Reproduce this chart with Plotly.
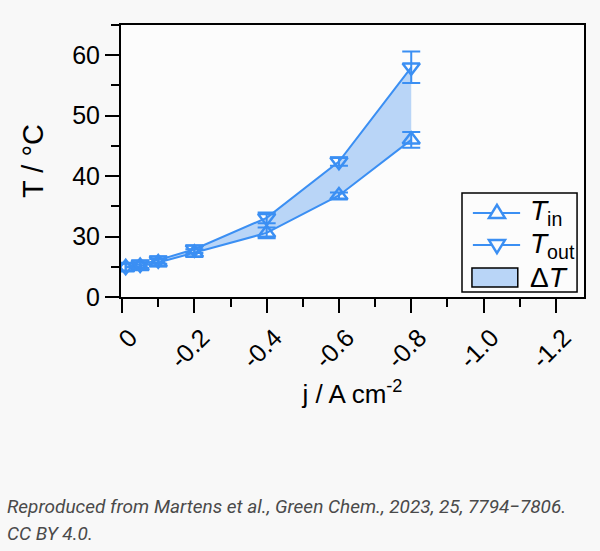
import plotly.graph_objects as go

# current density (A cm-2) and temperatures
j = [-0.01, -0.05, -0.1, -0.2, -0.4, -0.6, -0.8]
t_in = [24.9, 25.1, 25.7, 27.3, 30.6, 36.8, 46.0]
t_in_err = [0.6, 0.6, 0.6, 0.6, 0.9, 0.5, 1.3]
t_out = [25.0, 25.4, 26.1, 27.9, 33.1, 42.4, 58.0]
t_out_err = [0.6, 0.6, 0.6, 0.6, 0.9, 0.7, 2.6]

x_ticks = [0, -0.2, -0.4, -0.6, -0.8, -1.0, -1.2]
x_labels = ["0", "-0.2", "-0.4", "-0.6", "-0.8", "-1.0", "-1.2"]
y_ticks = [20, 30, 40, 50, 60]
y_labels = ["0", "30", "40", "50", "60"]

legend_names = ["<i>T</i><sub>in</sub>", "<i>T</i><sub>out</sub>", "Δ<i>T</i>"]

blue = "#3b8ff3"
fill = "#b9d5f7"
bg = "#fcfcfc"
font = "Liberation Sans, Arial, sans-serif"

fig = go.Figure()

# shaded delta T band between the two curves
fig.add_trace(go.Scatter(x=j, y=t_in, mode="lines", line=dict(width=0),
                         showlegend=False, hoverinfo="skip"))
fig.add_trace(go.Scatter(x=j, y=t_out, mode="lines", line=dict(width=0),
                         fill="tonexty", fillcolor=fill, showlegend=False,
                         hoverinfo="skip"))

fig.add_trace(go.Scatter(
    x=j, y=t_in, mode="lines+markers", name=legend_names[0], showlegend=False,
    line=dict(color=blue, width=2),
    marker=dict(symbol="triangle-up-open", size=15, color=blue, line=dict(width=2.5)),
    error_y=dict(type="data", array=t_in_err, color=blue, thickness=2, width=9),
))
fig.add_trace(go.Scatter(
    x=j, y=t_out, mode="lines+markers", name=legend_names[1], showlegend=False,
    line=dict(color=blue, width=2),
    marker=dict(symbol="triangle-down-open", size=15, color=blue, line=dict(width=2.5)),
    error_y=dict(type="data", array=t_out_err, color=blue, thickness=2, width=9),
))

# hand-drawn legend (plotly's own can't draw the wide outlined fill swatch)
fig.add_shape(type="rect", xref="paper", yref="paper", x0=0.7365, x1=0.985, y0=0.018, y1=0.382,
              line=dict(color="black", width=1.5), fillcolor=bg)
rows = [0.309, 0.191, 0.0735]
tri = ["M-8,-5L8,-5L0,8Z", "M-8,5L8,5L0,-8Z"]
for k in range(2):
    fig.add_shape(type="line", xref="paper", yref="paper", x0=0.760, x1=0.862,
                  y0=rows[k], y1=rows[k], line=dict(color=blue, width=2))
    fig.add_shape(type="path", xref="paper", yref="paper", xsizemode="pixel", ysizemode="pixel",
                  xanchor=0.812, yanchor=rows[k], path=tri[k],
                  line=dict(color=blue, width=2.5), fillcolor=bg)
fig.add_shape(type="rect", xref="paper", yref="paper", x0=0.758, x1=0.857, y0=0.037, y1=0.107,
              line=dict(color="black", width=1.5), fillcolor=fill)
for k in range(3):
    fig.add_annotation(xref="paper", yref="paper", x=0.878, y=rows[k], xanchor="left",
                       yanchor="middle", text=legend_names[k], showarrow=False,
                       font=dict(family=font, size=28, color="black"))

fig.update_xaxes(
    range=[0.003, -1.278], tickvals=x_ticks, ticktext=x_labels, tickangle=-45,
    ticks="outside", ticklen=14, tickwidth=2, tickcolor="black", ticklabelshift=-8,
    minor=dict(dtick=0.1, tick0=0, ticks="outside", ticklen=8, tickwidth=2, tickcolor="black"),
    showline=True, linewidth=2, linecolor="black", mirror=True, showgrid=False, zeroline=False,
    tickfont=dict(family=font, size=25, color="black"),
    title=dict(text="j / A cm<sup>-2</sup>", font=dict(family=font, size=26, color="black"), standoff=12),
)
fig.update_yaxes(
    range=[20, 65], tickvals=y_ticks, ticktext=y_labels,
    ticks="outside", ticklen=14, tickwidth=2, tickcolor="black",
    minor=dict(dtick=5, tick0=20, ticks="outside", ticklen=8, tickwidth=2, tickcolor="black"),
    showline=True, linewidth=2, linecolor="black", mirror=True, showgrid=False, zeroline=False,
    tickfont=dict(family=font, size=25, color="black"),
    title=dict(text="T / °C", font=dict(family=font, size=29, color="black"), standoff=20),
)

fig.add_annotation(
    xref="paper", yref="paper", x=-0.2505, y=-0.772, xanchor="left", yanchor="middle",
    text="<i>Reproduced from Martens et al., Green Chem., 2023, 25, 7794−7806.</i>",
    showarrow=False, font=dict(family="Roboto", size=19, color="#4a4a4a"), align="left",
)
fig.add_annotation(
    xref="paper", yref="paper", x=-0.2505, y=-0.868, xanchor="left", yanchor="middle",
    text="<i>CC BY 4.0.</i>",
    showarrow=False, font=dict(family="Roboto", size=19, color="#4a4a4a"), align="left",
)

fig.update_layout(
    width=600, height=551,
    margin=dict(l=121, r=16, t=25, b=254),
    paper_bgcolor="#f8f8f8", plot_bgcolor=bg,
    font=dict(family=font, color="black"),
    showlegend=False,
)

fig.write_html("out.html", config={"displayModeBar": False},
               post_script="document.body.style.margin='0';document.body.style.background='#f8f8f8';")
